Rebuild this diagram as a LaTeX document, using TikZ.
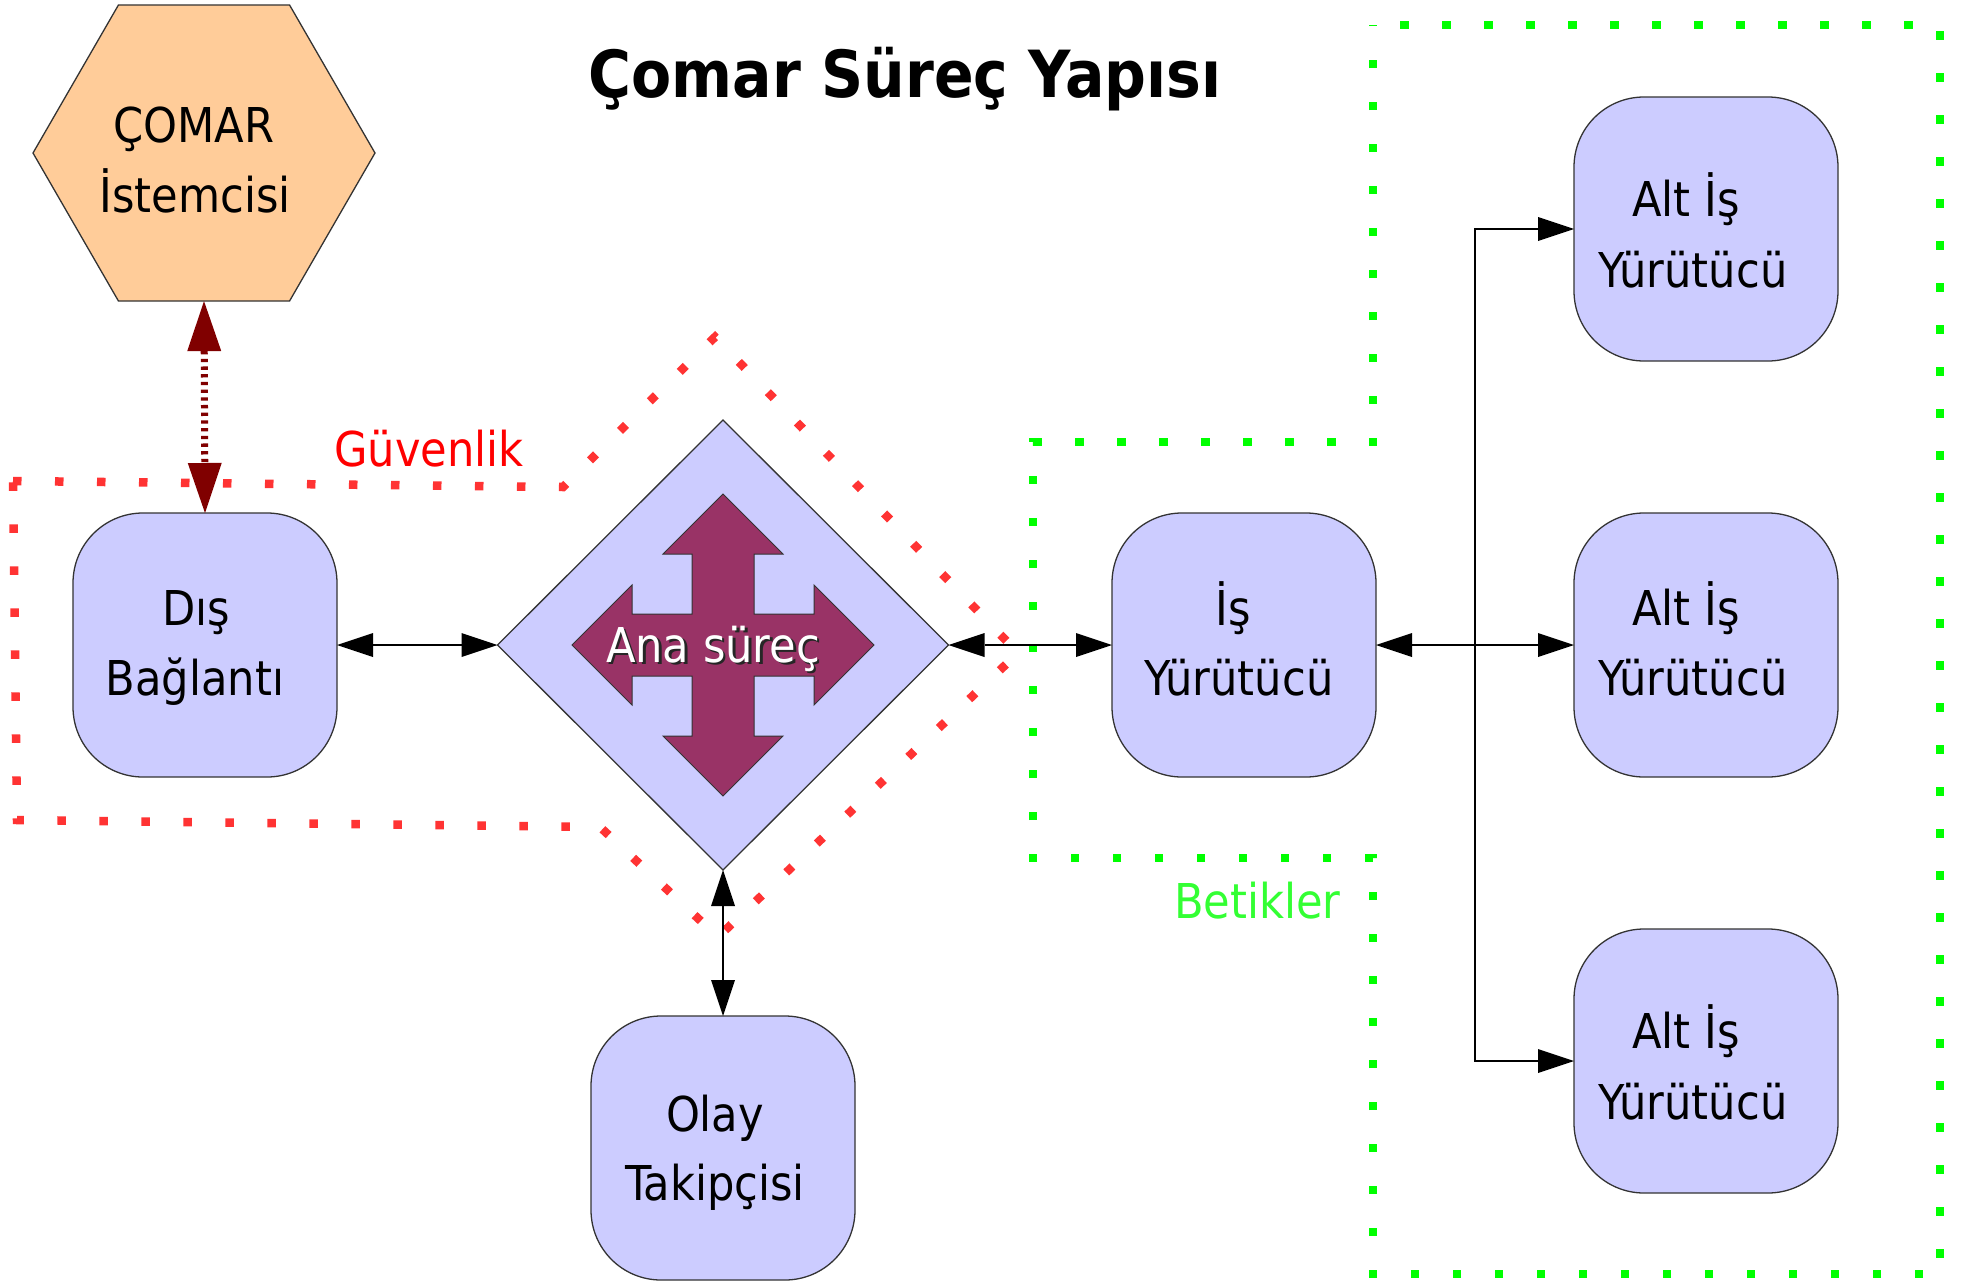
\documentclass[tikz,border=0pt]{standalone}
\usepackage{fontspec}
\setmainfont{DejaVu Sans Condensed}
\newfontfamily\titlefont{DejaVu Sans Condensed Bold}
\usetikzlibrary{shapes.geometric,arrows.meta,calc}
\definecolor{boxfill}{HTML}{CCCCFF}
\definecolor{hexfill}{HTML}{FFCC99}
\definecolor{crossfill}{HTML}{993366}
\definecolor{dotred}{HTML}{FF3333}
\definecolor{dotgreen}{HTML}{00FF00}
\definecolor{txtgreen}{HTML}{33FF33}
\definecolor{darkredc}{HTML}{800000}
\definecolor{edgec}{HTML}{333333}
\tikzset{
  bk/.tip={Triangle[length=36pt,width=24pt,line width=0pt]},
  rk/.tip={Triangle[length=50pt,width=34pt,line width=0pt]},
}
\begin{document}
\begin{tikzpicture}[x=1pt,y=-1pt,
  rbox/.style={draw=edgec, line width=1.3pt, fill=boxfill, rounded corners=70pt,
    minimum width=264pt, minimum height=264pt, inner sep=0pt, outer sep=0pt},
  hexa/.style={regular polygon, regular polygon sides=6, minimum size=342pt,
    draw=edgec, line width=1.3pt, fill=hexfill, inner sep=0pt, outer sep=0pt},
  dia/.style={diamond, aspect=1, minimum width=451pt, minimum height=450pt,
    draw=edgec, line width=1.3pt, fill=boxfill, inner sep=0pt, outer sep=0pt},
  ln/.style={anchor=base, font=\fontsize{48pt}{56pt}\selectfont, inner sep=0pt},
  lnw/.style={anchor=base west, font=\fontsize{48pt}{56pt}\selectfont, inner sep=0pt},
  con/.style={draw=black, line width=1.3pt},
  both/.style={con, arrows={bk-bk}},
  tonly/.style={con, arrows={-bk}},
  redarr/.style={draw=darkredc, line width=7pt, dash pattern=on 3.3pt off 4.4pt, arrows={rk-rk}},
  reddots/.style={draw=dotred, line width=8.5pt, dash pattern=on 8.5pt off 33.5pt},
  greendots/.style={draw=dotgreen, line width=8.5pt, dash pattern=on 8.5pt off 33.5pt, dash phase=-27pt},
]
\useasboundingbox (0,0) rectangle (1971,1285);

% region outlines
\draw[reddots] (13,481) -- (563,487) -- (715,337) -- (1018,653) -- (718,937) -- (600,827) -- (17,820) -- cycle;
\draw[greendots] (1373,25) -- (1940,25) -- (1940,1274) -- (1373,1274) -- (1373,858) -- (1033,858) -- (1033,442) -- (1373,442) -- cycle;

% title
\node[anchor=base, inner sep=0pt, font=\titlefont\fontsize{65pt}{72pt}\selectfont] (title) at (905,97) {Çomar Süreç Yapısı};

% shapes
\node[hexa] (cli) at (204,153) {};
\node[rbox] (dis) at (205,645) {};
\node[dia] (ana) at (723,645) {};
\node[rbox] (olay) at (723,1148) {};
\node[rbox] (is) at (1244,645) {};
\node[rbox] (alt1) at (1706,229) {};
\node[rbox] (alt2) at (1706,645) {};
\node[rbox] (alt3) at (1706,1061) {};

% cross arrow inside the diamond
\filldraw[fill=crossfill, draw=edgec, line width=1pt, shift={(ana.center)}]
  (0,-151) -- (60,-91) -- (31,-91) -- (31,-31) -- (91,-31) -- (91,-60) -- (151,0)
  -- (91,60) -- (91,31) -- (31,31) -- (31,91) -- (60,91) -- (0,151)
  -- (-60,91) -- (-31,91) -- (-31,31) -- (-91,31) -- (-91,60) -- (-151,0)
  -- (-91,-60) -- (-91,-31) -- (-31,-31) -- (-31,-91) -- (-60,-91) -- cycle;

% texts
\node[ln] (cli1) at (194,142) {ÇOMAR};
\node[ln] (cli2) at (195,212) {İstemcisi};
\node[ln] (dis1) at (196,625) {Dış};
\node[ln] (dis2) at (195,695) {Bağlantı};
\node[ln] (is1) at (1233,625) {İş};
\node[ln] (is2) at (1239,695) {Yürütücü};
\node[ln] (a11) at (1686,216) {Alt İş};
\node[ln] (a12) at (1693,287) {Yürütücü};
\node[ln] (a21) at (1686,625) {Alt İş};
\node[ln] (a22) at (1693,695) {Yürütücü};
\node[ln] (a31) at (1686,1048) {Alt İş};
\node[ln] (a32) at (1693,1119) {Yürütücü};
\node[ln] (olay1) at (715,1131) {Olay};
\node[ln] (olay2) at (715,1200) {Takipçisi};
\node[ln, text=black!85] (anash) at (715.5,664.5) {Ana süreç};
\node[ln, text=white] (anat) at (713,662) {Ana süreç};
\node[lnw, text=red] (guv) at (334,466) {Güvenlik};
\node[lnw, text=txtgreen] (bet) at (1174,918) {Betikler};

% connectors
\draw[redarr] (cli.south) -- (dis.north);
\draw[both] (dis.east) -- (ana.west);
\draw[both] (ana.east) -- (is.west);
\draw[both] (ana.south) -- (olay.north);
\draw[both] (is.east) -- (alt2.west);
\coordinate (jn) at ($(is.east)!0.5!(alt2.west)$);
\draw[tonly] (jn) |- (alt1.west);
\draw[tonly] (jn) |- (alt3.west);
\end{tikzpicture}
\end{document}
